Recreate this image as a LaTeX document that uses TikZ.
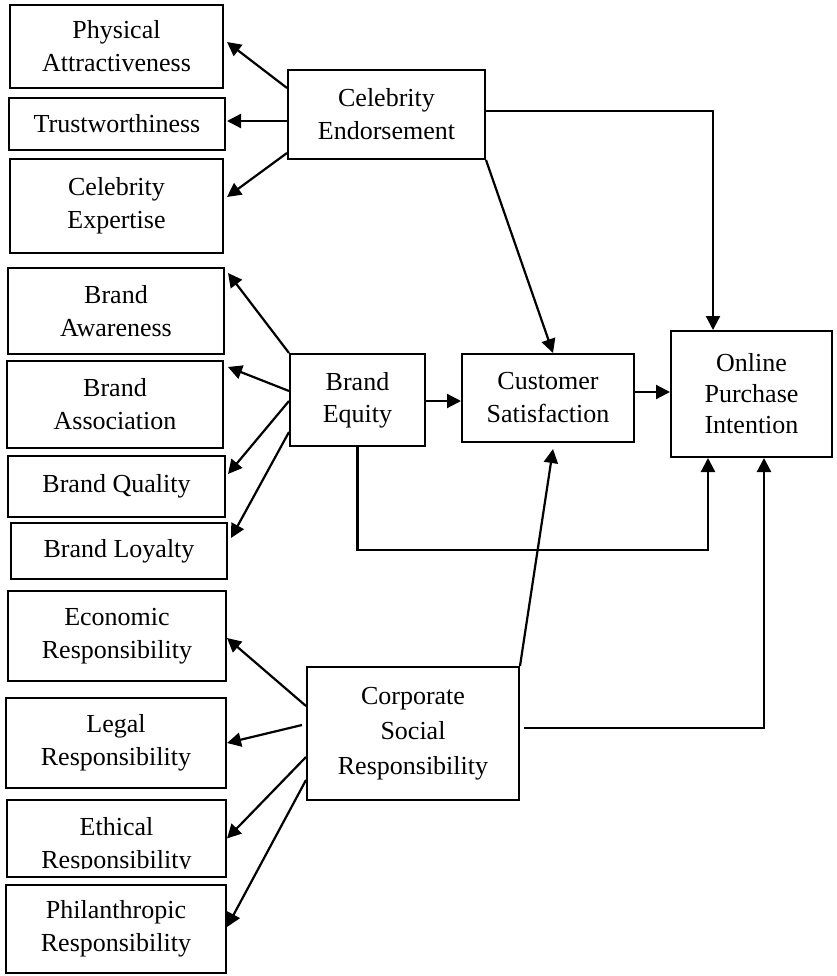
\documentclass[tikz,border=0pt]{standalone}
\usepackage{fontspec}
\setmainfont{Liberation Serif}
\usetikzlibrary{arrows.meta,calc}
\begin{document}
\begin{tikzpicture}[x=1pt,y=-1pt,
  box/.style={draw,line width=2pt,inner sep=0pt,align=center,font=\fontsize{26}{33}\selectfont},
  txt/.style={inner sep=0pt,align=center,font=\fontsize{26}{33}\selectfont},
  arr/.style={line width=2.2pt,-{Triangle[length=14pt,width=14pt]}},
  link/.style={line width=2.2pt}]
\useasboundingbox (0,0) rectangle (836,976);

% celebrity endorsement group
\node[box,minimum width=213pt,minimum height=83pt] (PA) at (116.5,46.5) {Physical\\Attractiveness};
\node[box,minimum width=216pt,minimum height=52pt] (TW) at (117,124) {Trustworthiness};
\node[box,minimum width=213pt,minimum height=94pt] (CX) at (116.5,206) {Celebrity\\Expertise};
\node[box,minimum width=197pt,minimum height=89pt] (CE) at (386.5,114.5) {Celebrity\\Endorsement};

% brand equity group
\node[box,minimum width=216pt,minimum height=86pt] (BA) at (116,311) {Brand\\Awareness};
\node[box,minimum width=216pt,minimum height=87pt] (BS) at (115,404.5) {Brand\\Association};
\node[box,minimum width=217pt,minimum height=61pt] (BQ) at (116.5,486.5) {Brand Quality};
\node[box,minimum width=216pt,minimum height=56pt] (BL) at (119,551) {Brand Loyalty};
\node[box,minimum width=135pt,minimum height=92pt,font=\fontsize{26}{32}\selectfont] (BE) at (357.5,400) {Brand\\Equity};

% outcomes
\node[box,minimum width=172pt,minimum height=88pt] (CS) at (548,398) {Customer\\Satisfaction};
\node[box,minimum width=161pt,minimum height=126pt,font=\fontsize{26}{31}\selectfont] (OPI) at (751.5,394) {Online\\Purchase\\Intention};

% CSR group
\node[box,minimum width=218pt,minimum height=90pt] (ER) at (117,636) {Economic\\Responsibility};
\node[box,minimum width=220pt,minimum height=90pt] (LR) at (116,743) {Legal\\Responsibility};
\node[box,minimum width=219pt,minimum height=77pt] (EthR) at (116.5,838.5) {};
\begin{scope}
  \clip (EthR.north west) rectangle ([yshift=10pt]EthR.south east);
  \node[txt] (EthRtext) at ([yshift=-7pt]EthR.center) {Ethical\\Responsibility};
\end{scope}
\node[box,minimum width=220pt,minimum height=88pt] (PR) at (116,929) {Philanthropic\\Responsibility};
\node[box,minimum width=212pt,minimum height=133pt,font=\fontsize{26}{35}\selectfont] (CSR) at (413,733.5) {Corporate\\Social\\Responsibility};

% celebrity endorsement arrows
\draw[arr] ([yshift=-19pt]CE.north west) -- ([xshift=3pt,yshift=4.5pt]PA.east);
\draw[arr] ([yshift=-6.5pt]CE.west) -- ([xshift=1pt,yshift=3pt]TW.east);
\draw[arr] ([yshift=7pt]CE.south west) -- ([xshift=3pt,yshift=9pt]CX.east);
\draw[arr] ([yshift=3.5pt]CE.east) -| ([xshift=-38.5pt]OPI.north);
\draw[arr] (CE.south east) -- ([xshift=5pt]CS.north);

% brand equity arrows
\draw[arr] (BE.north west) -- ([xshift=3pt,yshift=38pt]BA.east);
\draw[arr] ([yshift=9pt]BE.west) -- ([xshift=4pt,yshift=37.5pt]BS.east);
\draw[arr] ([yshift=-1pt]BE.west) -- ([xshift=2pt,yshift=12.5pt]BQ.east);
\draw[arr] ([yshift=-32pt]BE.west) -- ([xshift=3pt,yshift=13pt]BL.east);
\draw[arr] ([yshift=-1pt]BE.east) -- ([yshift=-1pt]BE.east -| CS.west);
\draw[arr] ([yshift=6pt]CS.east) -- ([yshift=6pt]CS.east -| OPI.west);
\coordinate (BEdown) at ($(BE.south)+(0,103)$);
\draw[arr] (BE.south) -- (BEdown) -| ([xshift=-43.5pt]OPI.south);

% CSR arrows
\draw[arr] ([yshift=27.5pt]CSR.west) -- ([yshift=-2pt]ER.east);
\draw[arr] ([xshift=-4pt,yshift=8.5pt]CSR.west) -- (LR.east);
\draw[arr] ([yshift=-23.5pt]CSR.west) -- (EthR.east);
\draw[arr] ([yshift=-46.5pt]CSR.west) -- ([yshift=2pt]PR.east);
\draw[arr] (CSR.north east) -- ([xshift=5pt,yshift=-6pt]CS.south);
\draw[arr] ([xshift=4pt,yshift=5.5pt]CSR.east) -| ([xshift=12.5pt]OPI.south);
\end{tikzpicture}
\end{document}
